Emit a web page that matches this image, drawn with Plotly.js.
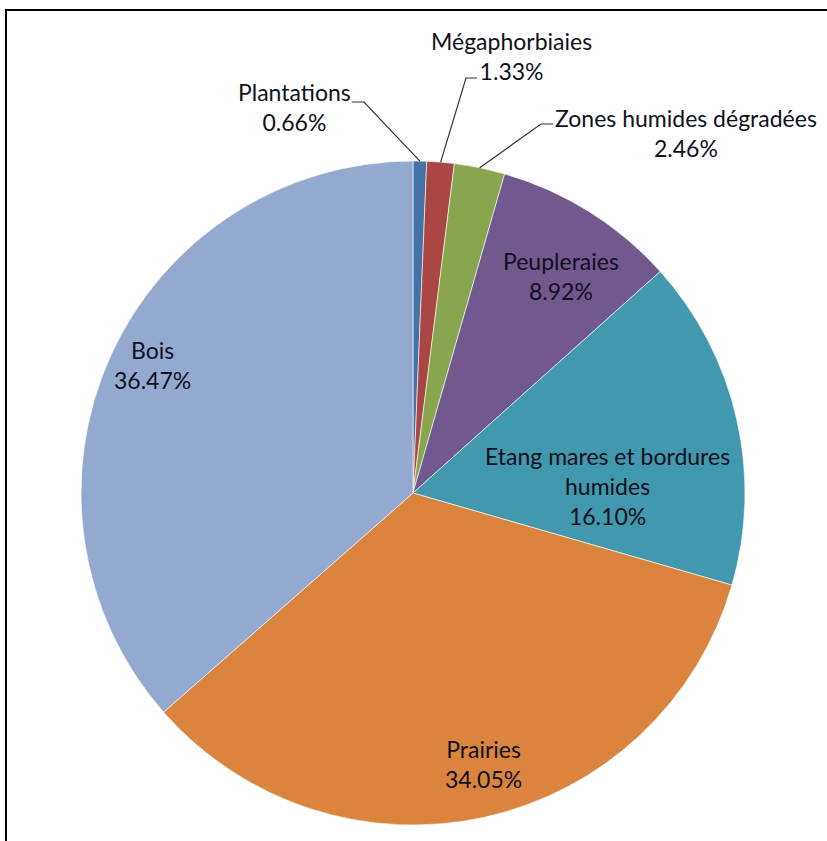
<!DOCTYPE html>
<html>
<head>
<meta charset="utf-8">
<script src="https://cdn.plot.ly/plotly-3.0.1.min.js"></script>
<style>html,body{margin:0;padding:0;background:#fff;}#chart{width:827px;height:841px;}</style>
</head>
<body>
<div id="chart"></div>
<script>
// ---- data ----
const categories = ['Plantations', 'Mégaphorbiaies', 'Zones humides dégradées', 'Peupleraies', 'Etang mares et bordures humides', 'Prairies', 'Bois'];
const labelLines = ['Plantations', 'Mégaphorbiaies', 'Zones humides dégradées', 'Peupleraies', 'Etang mares et bordures<br>humides', 'Prairies', 'Bois'];
const percentages = [0.66, 1.33, 2.46, 8.92, 16.10, 34.05, 36.47];
const colors = ['#4572A7', '#AA4643', '#89A54E', '#71588F', '#4198AF', '#DB843D', '#93A9CF'];

// ---- layout constants (pixels) ----
const W = 827, H = 841;
const CX = 413, CY = 493, R = 332;
const px = x => x / W;
const py = y => 1 - y / H;

// label centres (px) and, for outside labels, leader elbow points
const labelPos = [
  {x: 294, y: 107, elbow: [352, 102, 364, 102]},
  {x: 511, y: 56,  elbow: [477, 78, 466, 78]},
  {x: 686, y: 133, elbow: [553, 124, 541, 124]},
  {x: 561, y: 276},
  {x: 607, y: 486},
  {x: 483, y: 764},
  {x: 152, y: 365}
];

const total = percentages.reduce((a, b) => a + b, 0);
let cum = 0;
const annotations = [];
const shapes = [];
percentages.forEach((v, i) => {
  const mid = (cum + v / 2) / total * 2 * Math.PI;
  cum += v;
  const p = labelPos[i];
  annotations.push({
    x: px(p.x), y: py(p.y), xref: 'paper', yref: 'paper',
    xanchor: 'center', yanchor: 'middle', showarrow: false, align: 'center',
    text: labelLines[i] + '<br>' + v.toFixed(2) + '%',
    font: {family: 'Lato, "Open Sans", sans-serif', size: 23, color: '#10101c'}
  });
  if (p.elbow) {
    const ex = CX + R * Math.sin(mid), ey = CY - R * Math.cos(mid);
    const e = p.elbow;
    shapes.push({
      type: 'path', xref: 'paper', yref: 'paper',
      path: `M ${px(e[0])} ${py(e[1])} L ${px(e[2])} ${py(e[3])} L ${px(ex)} ${py(ey)}`,
      line: {color: '#333', width: 1.2}
    });
  }
});

// outer frame (cropped at right and bottom)
shapes.push({type: 'rect', xref: 'paper', yref: 'paper', x0: px(6), y0: py(10), x1: 1.05, y1: -0.05,
  line: {color: '#000', width: 2}, fillcolor: 'rgba(0,0,0,0)', layer: 'above'});

const trace = {
  type: 'pie',
  labels: categories,
  values: percentages,
  sort: false,
  direction: 'clockwise',
  rotation: 0,
  textinfo: 'none',
  hoverinfo: 'label+percent',
  marker: {colors: colors, line: {color: 'rgba(255,255,255,0.6)', width: 1}},
  domain: {x: [px(CX - R), px(CX + R)], y: [py(CY + R), py(CY - R)]},
  showlegend: false
};

const layout = {
  width: W, height: H,
  margin: {l: 0, r: 0, t: 0, b: 0},
  paper_bgcolor: '#fff',
  showlegend: false,
  annotations: annotations,
  shapes: shapes
};

Plotly.newPlot('chart', [trace], layout, {displayModeBar: false, staticPlot: true});
</script>
</body>
</html>
